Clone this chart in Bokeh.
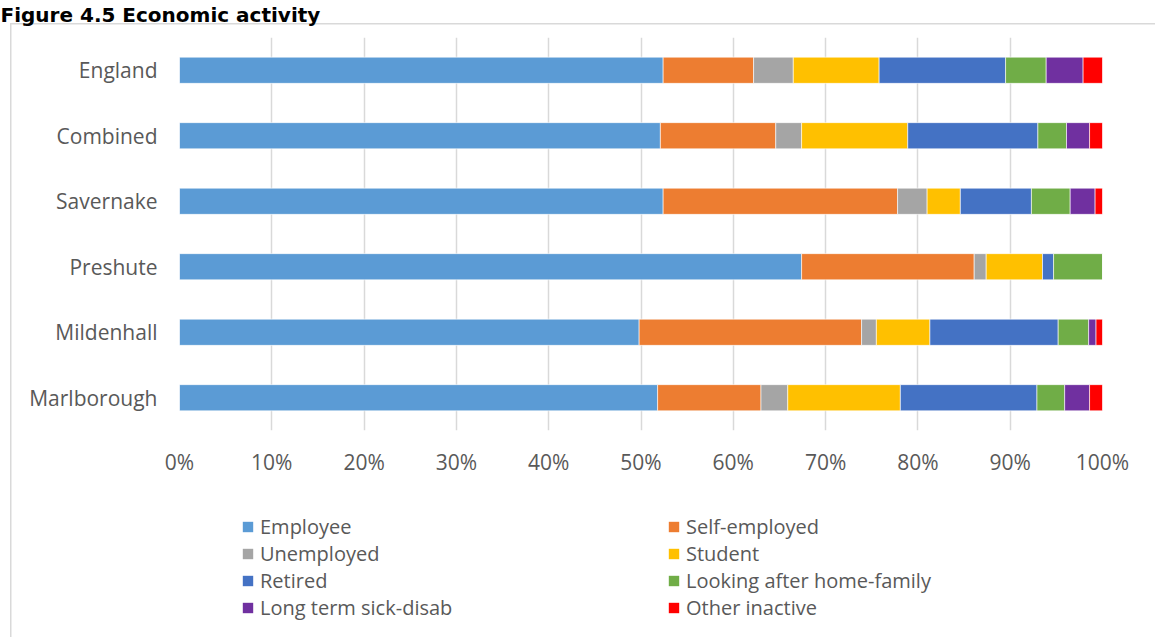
from bokeh.plotting import figure
from bokeh.models import (FactorRange, FixedTicker, Legend, LegendItem, ColumnDataSource,
                          Range1d, Title)
from bokeh.layouts import column
from bokeh.embed import file_html
from bokeh.resources import INLINE

# ---- data (percent of residents aged 16-74) ----
categories = ["Marlborough", "Mildenhall", "Preshute", "Savernake", "Combined", "England"]
employee = [51.8, 49.8, 67.4, 52.4, 52.1, 52.4]
self_employed = [11.2, 24.1, 18.7, 25.4, 12.5, 9.8]
unemployed = [2.9, 1.6, 1.3, 3.2, 2.8, 4.3]
student = [12.2, 5.8, 6.1, 3.6, 11.5, 9.3]
retired = [14.8, 13.9, 1.2, 7.7, 14.1, 13.7]
looking_after = [3.0, 3.3, 5.3, 4.2, 3.1, 4.4]
long_term_sick = [2.7, 0.8, 0.0, 2.7, 2.5, 4.0]
other_inactive = [1.4, 0.7, 0.0, 0.8, 1.4, 2.1]

series_names = ["Employee", "Self-employed", "Unemployed", "Student", "Retired",
                "Looking after home-family", "Long term sick-disab", "Other inactive"]
series_keys = ["employee", "self_employed", "unemployed", "student", "retired",
               "looking_after", "long_term_sick", "other_inactive"]
colors = ["#5B9BD5", "#ED7D31", "#A5A5A5", "#FFC000", "#4472C4",
          "#70AD47", "#7030A0", "#FF0000"]

x_ticks = [0, 10, 20, 30, 40, 50, 60, 70, 80, 90, 100]
tick_labels = ["0%", "10%", "20%", "30%", "40%", "50%", "60%", "70%", "80%", "90%", "100%"]

source = ColumnDataSource(data=dict(
    cat=categories, employee=employee, self_employed=self_employed,
    unemployed=unemployed, student=student, retired=retired,
    looking_after=looking_after, long_term_sick=long_term_sick,
    other_inactive=other_inactive))

box_bg = ("linear-gradient(#d9d9d9,#d9d9d9) 10px 23px / 1.5px 100% no-repeat, "
          "linear-gradient(#d9d9d9,#d9d9d9) 10px 23px / 100% 1.5px no-repeat, #ffffff")

# ---------------- main chart ----------------
p = figure(width=1155, height=490, x_range=(0, 100),
           y_range=FactorRange(factors=categories, range_padding=0),
           output_backend="svg", toolbar_location=None,
           min_border_left=179, min_border_right=53,
           min_border_top=0, min_border_bottom=60,
           title="Figure 4.5 Economic activity")
p.outline_line_color = None
p.background_fill_alpha = 0
p.border_fill_alpha = 0

p.title.align = "left"
p.title.offset = -179
p.title.text_font = "DejaVu Sans"
p.title.text_font_style = "bold"
p.title.text_font_size = "20px"
p.title.text_color = "black"
p.title.standoff = 0

# spacer between title and plot area
p.add_layout(Title(text=" ", text_font_size="1px", standoff=8), "above")

renderers = p.hbar_stack(series_keys, y="cat", height=0.4, color=colors,
                         source=source, line_color="white", line_width=0.6)

p.xaxis.ticker = FixedTicker(ticks=x_ticks)
p.xaxis.major_label_overrides = {t: l for t, l in zip(x_ticks, tick_labels)}
for ax in (p.xaxis[0], p.yaxis[0]):
    ax.axis_line_color = None
    ax.major_tick_line_color = None
    ax.minor_tick_line_color = None
    ax.major_tick_out = 0
    ax.major_tick_in = 0
    ax.minor_tick_out = 0
    ax.major_label_text_color = "#595959"
    ax.major_label_text_font = "Open Sans"
p.xaxis.major_label_text_font_size = "21px"
p.xaxis.major_label_standoff = 17
p.yaxis.major_label_text_font_size = "21px"
p.yaxis.major_label_standoff = 22

p.xgrid.ticker = FixedTicker(ticks=x_ticks)
p.xgrid.grid_line_color = "#d9d9d9"
p.xgrid.grid_line_width = 1.5
p.ygrid.grid_line_color = None

# ---------------- legend panel ----------------
q = figure(width=1155, height=147, x_range=Range1d(150, 1000),
           y_range=FactorRange(factors=categories),
           output_backend="svg", toolbar_location=None,
           min_border_left=0, min_border_right=0, min_border_top=0, min_border_bottom=0)
q.axis.visible = False
q.grid.visible = False
q.outline_line_color = None
q.background_fill_alpha = 0
q.border_fill_alpha = 0

# same stacked data with zero height and no outline, outside the visible x range:
# these renderers only supply the legend swatches
swatches = q.hbar_stack(series_keys, y="cat", height=0, fill_color=colors,
                        line_alpha=0, source=source)

order = [0, 2, 4, 6, 1, 3, 5, 7]
items = [LegendItem(label=series_names[i], renderers=[swatches[i]]) for i in order]
legend = Legend(items=items, orientation="vertical", nrows=4,
                location=(62, 16), padding=0, margin=0, spacing=0,
                glyph_width=13, glyph_height=13, label_standoff=6,
                label_width=407, label_height=20,
                label_text_font="Open Sans", label_text_font_size="20px",
                label_text_color="#595959",
                border_line_color=None, background_fill_alpha=0)
q.add_layout(legend, "center")

layout = column(p, q, spacing=0, styles={"background": box_bg})

open("out.html", "w").write(file_html(layout, INLINE))
